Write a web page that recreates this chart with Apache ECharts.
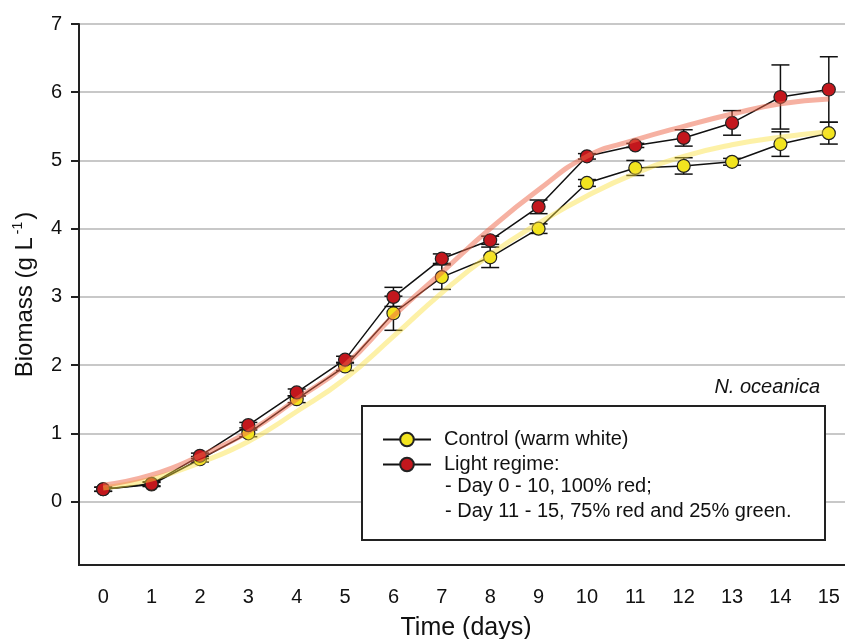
<!DOCTYPE html>
<html>
<head>
<meta charset="utf-8">
<script src="https://cdn.jsdelivr.net/npm/echarts@6/dist/echarts.min.js"></script>
<style>
  html, body { margin: 0; padding: 0; background: #fff; }
  #main { width: 845px; height: 639px; }
</style>
</head>
<body>
<div id="main"></div>
<script>
// days on the x axis
const days = ['0', '1', '2', '3', '4', '5', '6', '7', '8', '9', '10', '11', '12', '13', '14', '15']
const yTicks = [0, 1, 2, 3, 4, 5, 6, 7]

// control (warm white), mean and error
const controlMean = [0.18, 0.25, 0.62, 1.0, 1.5, 1.98, 2.76, 3.29, 3.58, 4.0, 4.67, 4.89, 4.92, 4.98, 5.24, 5.40]
const controlErr = [0.03, 0.03, 0.04, 0.05, 0.05, 0.06, 0.25, 0.18, 0.15, 0.07, 0.05, 0.11, 0.12, 0.05, 0.18, 0.16]

// light regime (red / red+green), mean and error
const lightMean = [0.18, 0.26, 0.67, 1.12, 1.6, 2.08, 3.0, 3.56, 3.83, 4.32, 5.06, 5.22, 5.33, 5.55, 5.93, 6.04]
const lightErr = [0.03, 0.03, 0.04, 0.04, 0.05, 0.05, 0.14, 0.07, 0.06, 0.1, 0.04, 0.03, 0.12, 0.18, 0.47, 0.48]

// fitted curves
const controlFit = [0.2, 0.33, 0.57, 0.88, 1.32, 1.8, 2.42, 3.06, 3.62, 4.08, 4.48, 4.81, 5.06, 5.23, 5.34, 5.42]
const lightFit = [0.24, 0.39, 0.67, 1.02, 1.5, 2.0, 2.72, 3.36, 4.0, 4.57, 5.06, 5.30, 5.50, 5.68, 5.83, 5.90]

const FONT = 'Liberation Sans, Arial, sans-serif'

function errData (mean, err) {
  return mean.map((m, i) => [i, m - err[i], m + err[i]])
}

function renderErr (params, api) {
  const x = api.value(0)
  const lo = api.coord([x, api.value(1)])
  const hi = api.coord([x, api.value(2)])
  const w = 9
  const style = { stroke: '#111', lineWidth: 1.5 }
  return {
    type: 'group',
    children: [
      { type: 'line', shape: { x1: lo[0], y1: lo[1], x2: hi[0], y2: hi[1] }, style },
      { type: 'line', shape: { x1: lo[0] - w, y1: lo[1], x2: lo[0] + w, y2: lo[1] }, style },
      { type: 'line', shape: { x1: hi[0] - w, y1: hi[1], x2: hi[0] + w, y2: hi[1] }, style }
    ]
  }
}

const option = {
  backgroundColor: '#fff',
  animation: false,
  textStyle: { fontFamily: FONT },
  grid: {
    left: 79,
    top: 24,
    width: 774,
    bottom: 74,
    outerBoundsMode: 'none',
    containLabel: false,
    show: true,
    borderColor: '#222',
    borderWidth: 2
  },
  xAxis: {
    type: 'category',
    data: days,
    boundaryGap: true,
    axisLine: { onZero: false, lineStyle: { color: '#222', width: 2 } },
    axisTick: { alignWithLabel: true, interval: 0, length: 8, lineStyle: { color: '#222', width: 2 } },
    axisLabel: { interval: 0, fontSize: 20, color: '#111', margin: 22, fontFamily: FONT },
    splitLine: { show: false },
    name: 'Time (days)',
    nameLocation: 'middle',
    nameGap: 51,
    nameTextStyle: { fontSize: 25, color: '#111', fontFamily: FONT }
  },
  yAxis: {
    type: 'value',
    min: -0.93,
    max: 7,
    axisLine: { show: true, lineStyle: { color: '#222', width: 2 } },
    axisTick: { show: true, customValues: yTicks, length: 8, lineStyle: { color: '#222', width: 2 } },
    axisLabel: { customValues: yTicks, fontSize: 20, color: '#111', margin: 17, fontFamily: FONT },
    splitLine: { show: true, lineStyle: { color: '#c8c8c8', width: 2 } },
    name: '{a|Biomass (g L}{s|-1}{a|)}',
    nameLocation: 'middle',
    nameGap: 40,
    nameRotate: 90,
    nameTextStyle: {
      rich: {
        a: { fontSize: 24, color: '#111', fontFamily: FONT, lineHeight: 28 },
        s: { fontSize: 14, color: '#111', fontFamily: FONT, verticalAlign: 'top', lineHeight: 14, padding: [0, 2, 0, 3] }
      }
    }
  },
  legend: {
    data: ['Control (warm white)', 'Light regime:'],
    orient: 'vertical',
    left: 377,
    top: 422,
    itemWidth: 48,
    itemHeight: 17,
    itemGap: 0,
    selectedMode: false,
    z: 21,
    textStyle: { fontSize: 20, color: '#111', lineHeight: 25, fontFamily: FONT, padding: [0, 0, 0, 8] }
  },
  graphic: [
    {
      type: 'rect',
      z: 20,
      shape: { x: 362, y: 406, width: 463, height: 134 },
      style: { fill: '#fff', stroke: '#222', lineWidth: 2 }
    },
    {
      type: 'text',
      z: 21,
      x: 445,
      y: 486,
      style: { text: '- Day 0 - 10, 100% red;', font: '20px ' + FONT, fill: '#111', textVerticalAlign: 'middle' }
    },
    {
      type: 'text',
      z: 21,
      x: 445,
      y: 511,
      style: { text: '- Day 11 - 15, 75% red and 25% green.', font: '20px ' + FONT, fill: '#111', textVerticalAlign: 'middle' }
    },
    {
      type: 'text',
      z: 21,
      x: 820,
      y: 387,
      style: { text: 'N. oceanica', font: 'italic 20px ' + FONT, fill: '#111', textAlign: 'right', textVerticalAlign: 'middle' }
    }
  ],
  series: [
    {
      name: 'controlErr',
      type: 'custom',
      z: 2,
      silent: true,
      renderItem: renderErr,
      encode: { x: 0, y: [1, 2] },
      data: errData(controlMean, controlErr)
    },
    {
      name: 'Control (warm white)',
      type: 'line',
      z: 3,
      data: controlMean,
      symbol: 'circle',
      symbolSize: 13,
      itemStyle: { color: '#f2e41f', borderColor: '#222', borderWidth: 1.2 },
      lineStyle: { color: '#111', width: 1.5 }
    },
    {
      name: 'lightErr',
      type: 'custom',
      z: 4,
      silent: true,
      renderItem: renderErr,
      encode: { x: 0, y: [1, 2] },
      data: errData(lightMean, lightErr)
    },
    {
      name: 'Light regime:',
      type: 'line',
      z: 5,
      data: lightMean,
      symbol: 'circle',
      symbolSize: 13,
      itemStyle: { color: '#c3171d', borderColor: '#222', borderWidth: 1.2 },
      lineStyle: { color: '#111', width: 1.5 }
    },
    {
      name: 'controlFit',
      type: 'line',
      z: 6,
      silent: true,
      smooth: true,
      symbol: 'none',
      data: controlFit,
      lineStyle: { color: 'rgba(250, 225, 60, 0.45)', width: 5 }
    },
    {
      name: 'lightFit',
      type: 'line',
      z: 6,
      silent: true,
      smooth: true,
      symbol: 'none',
      data: lightFit,
      lineStyle: { color: 'rgba(238, 100, 70, 0.5)', width: 5 }
    }
  ]
}

echarts.init(document.getElementById('main')).setOption(option)
</script>
</body>
</html>
